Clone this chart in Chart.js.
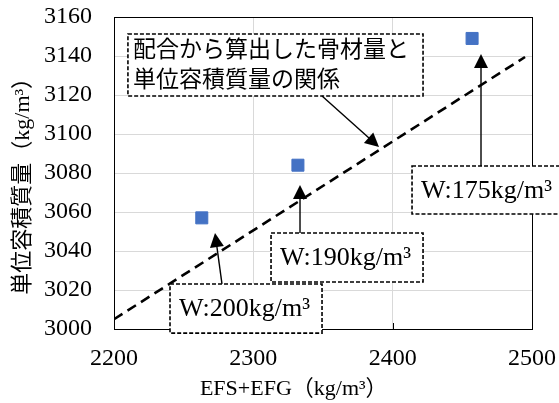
<!DOCTYPE html>
<html><head><meta charset="utf-8">
<script src="https://cdn.jsdelivr.net/npm/chart.js@4"></script>
<style>html,body{margin:0;padding:0;background:#fff}#wrap{width:559px;height:403px}</style>
</head><body><div id="wrap"><canvas id="c" width="559" height="403"></canvas></div>
<script>
// ---- data ----
const xValues = [2263, 2332, 2457];
const yValues = [3057, 3084, 3149];
const lineX = [2200, 2495];
const lineY = [3005, 3139.5];
const xTickValues = [2200, 2300, 2400, 2500];
const yTickValues = [3000, 3020, 3040, 3060, 3080, 3100, 3120, 3140, 3160];
const xTitle = 'EFS+EFG（kg/m³）';
const yTitle = '単位容積質量（kg/m³）';
const relationLabel = ['配合から算出した骨材量と', '単位容積質量の関係'];
const pointLabels = ['W:200kg/m³', 'W:190kg/m³', 'W:175kg/m³'];

// annotation layout (data coordinates)
const notes = [
  { lines: relationLabel, box: [2210, 3151.3, 2421.8, 3119.5], from: [2349.3, 3119.5], to: [2390.2, 3093.3] },
  { lines: [pointLabels[0]], box: [2240.2, 3023.1, 2349.3, 2997.9], from: [2277.5, 3023.1], to: [2272.5, 3049.2] },
  { lines: [pointLabels[1]], box: [2312.7, 3049.2, 2421.8, 3024.1], from: [2333.5, 3049.2], to: [2333.5, 3073.8] },
  { lines: [pointLabels[2]], box: [2413.9, 3083.6, 2535, 3059.0], from: [2463.4, 3083.6], to: [2463.4, 3141.0] }
];

const FONT = "'Liberation Serif', 'Noto Sans CJK JP', serif";

const overlay = {
  id: 'overlay',
  afterDraw(chart) {
    const ctx = chart.ctx, xs = chart.scales.x, ys = chart.scales.y, a = chart.chartArea;
    ctx.save();
    // frame
    ctx.strokeStyle = '#000'; ctx.lineWidth = 1; ctx.setLineDash([]);
    ctx.strokeRect(Math.round(a.left) + 0.5, Math.round(a.top) + 0.5, Math.round(a.right - a.left), Math.round(a.bottom - a.top));
    // inside ticks on x axis
    xTickValues.forEach(v => {
      const px = Math.round(xs.getPixelForValue(v)) + 0.5;
      ctx.beginPath(); ctx.moveTo(px, a.bottom); ctx.lineTo(px, a.bottom - 6); ctx.stroke();
    });
    // axis titles
    ctx.fillStyle = '#000';
    ctx.font = '22px ' + FONT;
    ctx.textAlign = 'center'; ctx.textBaseline = 'middle';
    ctx.fillText(xTitle, a.left + (a.right - a.left) * 0.43, chart.height - 14);
    ctx.save();
    ctx.translate(23, a.top + (a.bottom - a.top) * 0.525);
    ctx.rotate(-Math.PI / 2);
    ctx.fillText(yTitle, 0, 0);
    ctx.restore();
    // annotations
    notes.forEach(n => {
      const l = xs.getPixelForValue(n.box[0]), t = ys.getPixelForValue(n.box[1]);
      const r = xs.getPixelForValue(n.box[2]), b = ys.getPixelForValue(n.box[3]);
      ctx.setLineDash([4, 2]); ctx.lineWidth = 1.6; ctx.strokeStyle = '#000';
      ctx.fillStyle = '#fff';
      ctx.fillRect(l, t, r - l, b - t);
      ctx.strokeRect(l, t, r - l, b - t);
      ctx.setLineDash([]);
      ctx.fillStyle = '#000';
      const multi = n.lines.length > 1;
      ctx.font = (multi ? 23 : 26) + 'px ' + FONT;
      ctx.textBaseline = 'middle'; ctx.textAlign = 'left';
      const lh = multi ? 30 : 0;
      const cy = (t + b) / 2 - (n.lines.length - 1) * lh / 2;
      n.lines.forEach((s, i) => ctx.fillText(s, l + (multi ? 5 : 9), cy + i * lh + 1));
      // arrow
      const x0 = xs.getPixelForValue(n.from[0]), y0 = ys.getPixelForValue(n.from[1]);
      const x1 = xs.getPixelForValue(n.to[0]), y1 = ys.getPixelForValue(n.to[1]);
      const ang = Math.atan2(y1 - y0, x1 - x0), hl = 14, hw = 7;
      ctx.lineWidth = 1.4;
      ctx.beginPath(); ctx.moveTo(x0, y0);
      ctx.lineTo(x1 - Math.cos(ang) * hl * 0.8, y1 - Math.sin(ang) * hl * 0.8); ctx.stroke();
      ctx.beginPath();
      ctx.moveTo(x1, y1);
      ctx.lineTo(x1 - Math.cos(ang) * hl - Math.sin(ang) * hw, y1 - Math.sin(ang) * hl + Math.cos(ang) * hw);
      ctx.lineTo(x1 - Math.cos(ang) * hl + Math.sin(ang) * hw, y1 - Math.sin(ang) * hl - Math.cos(ang) * hw);
      ctx.closePath(); ctx.fill();
    });
    ctx.restore();
  }
};

new Chart(document.getElementById('c'), {
  type: 'scatter',
  data: {
    datasets: [
      {
        data: xValues.map((x, i) => ({ x, y: yValues[i] })),
        pointStyle: 'rect', pointRadius: 8.5, pointHoverRadius: 8.5,
        backgroundColor: '#4472C4', borderColor: '#4472C4', pointBorderWidth: 1,
        order: 1
      },
      {
        data: lineX.map((x, i) => ({ x, y: lineY[i] })),
        showLine: true, pointRadius: 0, borderColor: '#000', borderWidth: 2.6,
        borderDash: [10, 6], fill: false, order: 2
      }
    ]
  },
  options: {
    responsive: false, animation: false, devicePixelRatio: 1,
    layout: { padding: { top: 17, right: 27, left: 0, bottom: 0 } },
    plugins: { legend: { display: false }, tooltip: { enabled: false } },
    scales: {
      x: {
        type: 'linear', min: 2200, max: 2500,
        afterBuildTicks: s => { s.ticks = xTickValues.map(v => ({ value: v })); },
        afterFit: s => { s.height = 74; },
        ticks: { color: '#000', font: { family: FONT, size: 24 }, padding: 0, maxRotation: 0, callback: v => String(v) },
        grid: { color: '#d9d9d9', drawTicks: true, tickLength: 15, tickColor: 'rgba(0,0,0,0)' },
        border: { display: true, color: '#000', width: 1 },
        title: { display: false, text: xTitle }
      },
      y: {
        type: 'linear', min: 3000, max: 3160,
        afterBuildTicks: s => { s.ticks = yTickValues.map(v => ({ value: v })); },
        afterFit: s => { s.width = 114; },
        ticks: { color: '#000', font: { family: FONT, size: 24 }, padding: 0, callback: v => String(v) },
        grid: { color: '#d9d9d9', drawTicks: true, tickLength: 22, tickColor: 'rgba(0,0,0,0)' },
        border: { display: true, color: '#000', width: 1 },
        title: { display: false, text: yTitle }
      }
    }
  },
  plugins: [overlay]
});
</script>
</body></html>
